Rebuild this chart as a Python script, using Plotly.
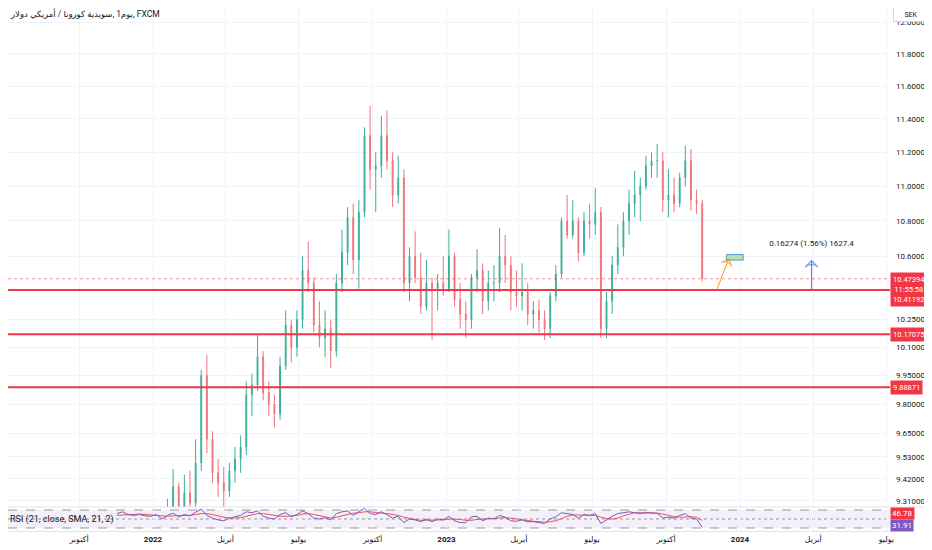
import math
import pandas as pd
import plotly.graph_objs as go

# weekly bars, USD/SEK (FXCM)
bar_start = '2021-11-17'
open_ = [8.72, 8.82, 9.05, 9.02, 9.06, 9.10, 9.08, 9.05, 9.15, 8.98,
         9.22, 9.38, 9.16, 9.35, 9.30, 9.50, 9.95, 9.62, 9.45, 9.40,
         9.36, 9.46, 9.52, 9.58, 9.85, 9.90, 10.05, 9.86, 9.80, 9.75,
         10.00, 10.22, 10.10, 10.25, 10.52, 10.45, 10.22, 10.15, 10.20, 10.08,
         10.45, 10.62, 10.82, 10.58, 10.85, 11.30, 11.10, 11.12, 11.30, 11.15,
         10.95, 11.05, 10.45, 10.60, 10.48, 10.32, 10.45, 10.42, 10.45, 10.42,
         10.60, 10.36, 10.28, 10.25, 10.48, 10.52, 10.35, 10.45, 10.45, 10.60,
         10.55, 10.40, 10.38, 10.40, 10.28, 10.30, 10.25, 10.20, 10.38, 10.50,
         10.80, 10.72, 10.80, 10.62, 10.80, 10.78, 10.85, 10.20, 10.35, 10.55,
         10.65, 10.80, 10.90, 10.95, 11.00, 11.12, 11.15, 11.15, 10.92, 10.95,
         10.90, 11.05, 11.15, 10.92, 10.90]
high = [8.85, 9.10, 9.12, 9.10, 9.16, 9.18, 9.12, 9.20, 9.18, 9.32,
        9.47, 9.40, 9.44, 9.46, 9.62, 9.98, 10.06, 9.66, 9.52, 9.48,
        9.50, 9.58, 9.64, 9.92, 9.96, 10.17, 10.08, 9.92, 9.85, 10.05,
        10.30, 10.25, 10.30, 10.60, 10.68, 10.48, 10.35, 10.30, 10.25, 10.50,
        10.75, 10.88, 10.90, 10.92, 11.35, 11.48, 11.20, 11.42, 11.45, 11.20,
        11.18, 11.10, 10.65, 10.74, 10.62, 10.58, 10.48, 10.50, 10.60, 10.75,
        10.62, 10.45, 10.35, 10.50, 10.64, 10.56, 10.52, 10.55, 10.76, 10.72,
        10.60, 10.52, 10.56, 10.45, 10.35, 10.36, 10.30, 10.40, 10.55, 10.82,
        10.95, 10.92, 10.82, 10.85, 10.90, 10.99, 10.88, 10.40, 10.60, 10.78,
        10.85, 10.98, 11.09, 11.05, 11.18, 11.20, 11.25, 11.20, 11.10, 11.05,
        11.08, 11.24, 11.22, 10.98, 10.92]
low = [8.70, 8.80, 8.98, 8.97, 9.02, 9.04, 9.00, 9.02, 8.93, 8.96,
       9.18, 9.12, 9.12, 9.24, 9.27, 9.46, 9.55, 9.40, 9.33, 9.26,
       9.33, 9.40, 9.45, 9.54, 9.74, 9.87, 9.82, 9.74, 9.68, 9.72,
       9.98, 10.02, 10.05, 10.20, 10.40, 10.18, 10.10, 10.05, 9.99, 10.05,
       10.40, 10.55, 10.50, 10.42, 10.82, 10.98, 10.85, 11.05, 11.10, 10.88,
       10.90, 10.40, 10.35, 10.45, 10.28, 10.30, 10.14, 10.30, 10.38, 10.40,
       10.32, 10.20, 10.15, 10.20, 10.40, 10.28, 10.30, 10.35, 10.40, 10.45,
       10.30, 10.32, 10.30, 10.22, 10.20, 10.18, 10.14, 10.15, 10.35, 10.48,
       10.70, 10.70, 10.57, 10.60, 10.70, 10.72, 10.15, 10.15, 10.28, 10.50,
       10.60, 10.72, 10.82, 10.80, 10.98, 11.05, 11.05, 10.85, 10.82, 10.85,
       10.88, 11.00, 10.86, 10.84, 10.46]
close = [8.82, 9.05, 9.02, 9.06, 9.10, 9.08, 9.05, 9.15, 8.98, 9.22,
         9.38, 9.16, 9.35, 9.30, 9.50, 9.95, 9.62, 9.45, 9.40, 9.36,
         9.46, 9.52, 9.58, 9.85, 9.90, 10.05, 9.86, 9.80, 9.75, 10.00,
         10.22, 10.10, 10.25, 10.52, 10.45, 10.22, 10.15, 10.20, 10.08, 10.45,
         10.62, 10.82, 10.58, 10.85, 11.30, 11.10, 11.12, 11.30, 11.15, 10.95,
         11.05, 10.45, 10.60, 10.48, 10.32, 10.45, 10.42, 10.45, 10.42, 10.60,
         10.36, 10.28, 10.25, 10.48, 10.52, 10.35, 10.45, 10.45, 10.60, 10.55,
         10.40, 10.38, 10.40, 10.28, 10.30, 10.25, 10.20, 10.38, 10.50, 10.80,
         10.72, 10.80, 10.62, 10.80, 10.78, 10.85, 10.20, 10.35, 10.55, 10.65,
         10.80, 10.90, 10.95, 11.00, 11.12, 11.15, 11.15, 10.92, 10.95, 10.90,
         11.05, 11.15, 10.92, 10.90, 10.47394]

# RSI(21) and its SMA(21), one value per bar
rsi = [62, 66, 60, 58, 60, 57, 56, 60, 50, 58,
       63, 55, 60, 57, 65, 72, 58, 52, 48, 46,
       52, 55, 58, 66, 64, 68, 56, 52, 50, 60,
       64, 55, 60, 68, 62, 52, 50, 53, 48, 62,
       66, 68, 58, 66, 74, 62, 60, 66, 60, 52,
       56, 42, 50, 48, 44, 50, 44, 50, 48, 56,
       46, 42, 42, 55, 56, 46, 52, 50, 58, 54,
       46, 45, 48, 44, 44, 42, 40, 50, 55, 64,
       62, 60, 52, 60, 58, 62, 40, 48, 56, 62,
       64, 66, 64, 62, 64, 64, 63, 52, 54, 52,
       58, 62, 52, 50, 31.91]
rsi_ma = [58, 59, 60, 61, 61, 60, 59, 58, 57, 56,
          57, 57, 58, 58, 60, 62, 62, 60, 57, 54,
          52, 52, 53, 56, 59, 62, 62, 60, 57, 56,
          56, 57, 58, 61, 62, 60, 57, 54, 52, 54,
          57, 61, 63, 64, 66, 66, 64, 63, 62, 60,
          58, 54, 51, 49, 47, 47, 47, 47, 48, 50,
          50, 49, 47, 47, 49, 50, 51, 51, 53, 53,
          52, 50, 48, 46, 45, 44, 43, 44, 46, 51,
          56, 59, 59, 58, 58, 58, 54, 51, 50, 52,
          57, 61, 64, 64, 64, 64, 63, 61, 58, 55,
          54, 55, 55, 54, 46.78]

# drawn levels
levels = [10.41192, 10.17075, 9.88871]
last_price = 10.47394
countdown = '11:55:58'

# long-position tool
measure_from = 10.41192
measure_to = 10.57466
measure_text = '0.16274 (1.56%) 1627.4'
box_dates = ['2023-12-15', '2024-01-05']
box_prices = [10.578, 10.609]
arrow_dates = ['2023-12-03', '2023-12-18']
arrow_prices = [10.412, 10.5835]
measure_date = '2024-03-30'

x_range = ['2021-07-04 16:05', '2024-07-05 13:12']
price_range = [9.2804, 12.0906]

time_ticks = ['2021-10-01', '2022-01-01', '2022-04-01', '2022-07-01',
              '2022-10-01', '2023-01-01', '2023-04-01', '2023-07-01', '2023-10-01',
              '2024-01-01', '2024-04-01', '2024-07-01']
time_labels = ['أكتوبر', '<b>2022</b>', 'أبريل', 'يوليو', 'أكتوبر',
               '<b>2023</b>', 'أبريل', 'يوليو', 'أكتوبر', '<b>2024</b>', 'أبريل', 'يوليو']
price_ticks = [9.31, 9.42, 9.53, 9.65, 9.80, 9.95, 10.10, 10.25,
               10.60, 10.80, 11.00, 11.20, 11.40, 11.60, 11.80, 12.00]

# symbol title; the Arabic part is written in reverse so that the words
# come out left-to-right, as they appear in the chart's own title
title_text = 'يوم1 ,سويدية كورونا / أمريكي دولار, FXCM'

dates = pd.date_range(bar_start, periods=len(close), freq='7D')

FONT = 'Roboto, DejaVu Sans, sans-serif'
RED = '#f23645'
TXT = '#131722'
GRID = '#f0f3fa'

# the page body keeps its 8px margin, so the figure is laid out 8px smaller
W, H = 924, 542
PLOT_W, PLOT_H = 882, 523
RSI_H = 24

fig = go.Figure()

fig.add_trace(go.Candlestick(
    x=dates, open=open_, high=high, low=low, close=close,
    increasing=dict(line=dict(color='#3aae9a', width=1), fillcolor='#3aae9a'),
    decreasing=dict(line=dict(color='#f0727c', width=1), fillcolor='#f0727c'),
    whiskerwidth=0, xaxis='x', yaxis='y',
))

# last price dotted line
fig.add_trace(go.Scatter(x=x_range, y=[last_price, last_price], mode='lines',
                         line=dict(color='rgba(242,54,69,0.55)', width=1, dash='dot'),
                         xaxis='x', yaxis='y'))
# horizontal levels
for lv in levels:
    fig.add_trace(go.Scatter(x=x_range, y=[lv, lv], mode='lines',
                             line=dict(color=RED, width=2), xaxis='x', yaxis='y'))

# measurement tool
fig.add_trace(go.Scatter(
    x=[box_dates[0], box_dates[1], box_dates[1], box_dates[0], box_dates[0]],
    y=[box_prices[0], box_prices[0], box_prices[1], box_prices[1], box_prices[0]],
    mode='lines', fill='toself', fillcolor='#b9e2b0',
    line=dict(color='#5a9bd0', width=1), xaxis='x', yaxis='y'))
fig.add_trace(go.Scatter(
    x=arrow_dates, y=arrow_prices, mode='lines+markers',
    line=dict(color='#f7931e', width=1),
    marker=dict(symbol='arrow-wide-open', size=[0, 8], angleref='previous',
                color='#f7931e', line=dict(color='#f7931e', width=1.2)),
    xaxis='x', yaxis='y'))
fig.add_trace(go.Scatter(
    x=[measure_date, measure_date], y=[measure_from, measure_to], mode='lines+markers',
    line=dict(color='#5b7ff0', width=1.2),
    marker=dict(symbol='arrow-wide-open', size=[0, 9], angleref='previous',
                color='#5b7ff0', line=dict(color='#5b7ff0', width=1.4)),
    xaxis='x', yaxis='y'))
fig.add_trace(go.Scatter(x=[measure_date], y=[10.67], mode='text', text=[measure_text],
                         textfont=dict(family=FONT, size=8, color=TXT),
                         xaxis='x', yaxis='y'))

# RSI pane
fig.add_trace(go.Scatter(x=dates, y=rsi_ma, mode='lines',
                         line=dict(color='#ef5350', width=1), xaxis='x', yaxis='y2'))
fig.add_trace(go.Scatter(x=dates, y=rsi, mode='lines',
                         line=dict(color='#7e57c2', width=1), xaxis='x', yaxis='y2'))

shapes = [
    dict(type='rect', xref='paper', yref='y2', x0=0, x1=1, y0=30, y1=70,
         fillcolor='rgba(126,87,194,0.09)', line=dict(width=0), layer='below'),
]
for v in (70, 50, 30):
    shapes.append(dict(type='line', xref='paper', yref='y2', x0=0, x1=1, y0=v, y1=v,
                       line=dict(color='#9598a1', width=1, dash='dash' if v != 50 else 'dot'),
                       layer='below'))
# pane separator
shapes.append(dict(type='line', xref='paper', yref='paper', x0=0, x1=W / PLOT_W,
                   y0=RSI_H / PLOT_H, y1=RSI_H / PLOT_H, line=dict(color='#e0e3eb', width=1)))


def price_label(value, text, color, shift=0):
    return dict(xref='paper', yref='y', x=1, y=math.log10(value), xanchor='left',
                yanchor='middle', yshift=shift, xshift=0, text=text, showarrow=False,
                bgcolor=color, borderpad=2, align='center',
                font=dict(family=FONT, size=7.5, color='white'))


annotations = [
    dict(xref='paper', yref='paper', x=0, y=(523 - 5) / PLOT_H, xanchor='left',
         yanchor='middle', text=title_text, showarrow=False,
         font=dict(family=FONT, size=8.5, color=TXT)),
    dict(xref='paper', yref='paper', x=902.5 / PLOT_W, y=(523 - 6) / PLOT_H,
         xanchor='center', yanchor='middle', text='SEK', showarrow=False,
         bgcolor='white', bordercolor='#d1d4dc', borderwidth=1, width=32, height=11,
         font=dict(family=FONT, size=7, color=TXT)),
    price_label(levels[0], f'{last_price:.5f}<br>{countdown}<br>{levels[0]:.5f}', RED),
    price_label(levels[1], f'{levels[1]:.5f}', RED),
    price_label(levels[2], f'{levels[2]:.5f}', RED),
    dict(xref='paper', yref='y2', x=1, y=rsi_ma[-1], xanchor='left', yanchor='middle',
         yshift=7, text=f'{rsi_ma[-1]:.2f}', showarrow=False, bgcolor=RED,
         borderpad=1, font=dict(family=FONT, size=8, color='white')),
    dict(xref='paper', yref='y2', x=1, y=rsi[-1], xanchor='left', yanchor='middle',
         yshift=2, text=f'{rsi[-1]:.2f}', showarrow=False, bgcolor='#7e57c2',
         borderpad=1, font=dict(family=FONT, size=8, color='white')),
    dict(xref='paper', yref='y2', x=0, y=50, xanchor='left', yanchor='middle',
         text='RSI (21, close, SMA, 21, 2)', showarrow=False,
         font=dict(family=FONT, size=9, color=TXT)),
]

fig.update_layout(
    width=W, height=H,
    margin=dict(l=0, r=W - PLOT_W, t=0, b=H - PLOT_H),
    paper_bgcolor='white', plot_bgcolor='white',
    showlegend=False, hovermode=False, boxgap=0.78,
    font=dict(family=FONT, size=8, color=TXT),
    xaxis=dict(type='date', range=x_range, anchor='y2', tickvals=time_ticks,
               ticktext=time_labels, showgrid=True, gridcolor=GRID, gridwidth=1,
               zeroline=False, showline=True, linecolor='#e0e3eb', ticks='',
               tickfont=dict(family=FONT, size=8, color=TXT),
               rangeslider=dict(visible=False)),
    yaxis=dict(type='log', domain=[RSI_H / PLOT_H, 1], side='right', anchor='x',
               range=[math.log10(price_range[0]), math.log10(price_range[1])],
               tickvals=price_ticks, ticktext=[f'{v:.5f}' for v in price_ticks],
               showgrid=True, gridcolor=GRID, zeroline=False, ticks='',
               ticklabelstandoff=5, tickfont=dict(family=FONT, size=8, color=TXT)),
    yaxis2=dict(domain=[0, RSI_H / PLOT_H], side='right', anchor='x', range=[23.3, 76.7],
                showgrid=False, zeroline=False, showticklabels=False, ticks=''),
    shapes=shapes,
    annotations=annotations,
)

fig.write_html('out.html')
